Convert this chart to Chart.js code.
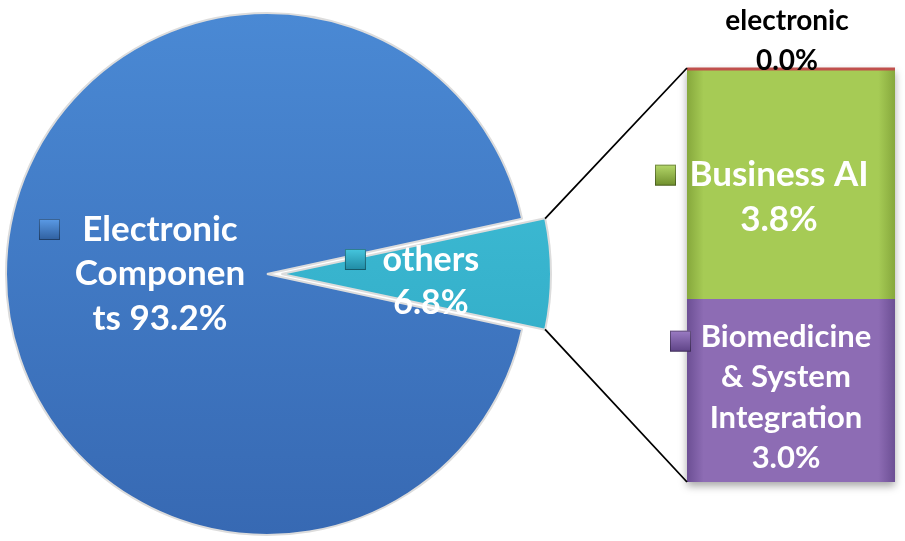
<!DOCTYPE html>
<html>
<head>
<meta charset="utf-8">
<script src="https://cdn.jsdelivr.net/npm/chart.js@4.4.1/dist/chart.umd.min.js"></script>
<style>
  html, body { margin: 0; padding: 0; background: #fff; overflow: hidden; }
  #wrap { position: relative; width: 905px; height: 541px; }
  #wrap canvas { position: absolute; left: 0; top: 0; }
</style>
</head>
<body>
<div id="wrap">
  <canvas id="pieChart" width="905" height="541"></canvas>
  <canvas id="barChart" width="905" height="541"></canvas>
</div>
<script>
// pie: "others" is split out into the bar on the right
const pieLabels = ['others', 'Electronic Components'];
const pieValues = [6.8, 93.2];
const pieLabelLines = [['others'], ['Electronic', 'Componen', 'ts']];

// bar (stack from bottom to top)
const barLabels = ['Biomedicine & System Integration', 'Business AI', 'electronic'];
const barValues = [3.0, 3.8, 0.0];
const barLabelLines = [['Biomedicine', '& System', 'Integration'], ['Business AI'], ['electronic']];

const pieColors = [['#45c4dc', '#2aa3bf'], ['#4a89d4', '#3769b3']];
const barColors = [['#8d6cb4', '#6c4f94'], ['#a6cb55', '#86a83c'], ['#c0504d', '#c0504d']];

const pct = v => v.toFixed(1) + '%';
const FONT = 'Lato, "Open Sans", sans-serif';

function drawKey(ctx, x, y, size, c1, c2) {
    const g = ctx.createLinearGradient(x, y, x, y + size);
    g.addColorStop(0, c1);
    g.addColorStop(1, c2);
    ctx.fillStyle = g;
    ctx.fillRect(x, y, size, size);
    ctx.strokeStyle = 'rgba(0,0,0,0.35)';
    ctx.lineWidth = 1;
    ctx.strokeRect(x + 0.5, y + 0.5, size - 1, size - 1);
}

function drawLines(ctx, lines, cx, cy, lh, font, color) {
    ctx.save();
    ctx.font = font;
    ctx.fillStyle = color;
    ctx.textAlign = 'center';
    ctx.textBaseline = 'middle';
    const top = cy - (lines.length - 1) * lh / 2;
    lines.forEach((t, i) => ctx.fillText(t, cx, top + i * lh));
    ctx.restore();
}

function vertGradient(ctx, area, c) {
    const g = ctx.createLinearGradient(0, area.top, 0, area.bottom);
    g.addColorStop(0, c[0]);
    g.addColorStop(1, c[1]);
    return g;
}

const total = pieValues.reduce((a, b) => a + b, 0);
const othersIdx = 0;
const othersAngle = pieValues[othersIdx] / total * 360;

// Chart.js moves an arc by offset/4 * (2 - sin(circumference)); pick the option
// so the exploded slice moves the wanted number of pixels
const explodePx = 23;
const othersCirc = othersAngle * Math.PI / 180;
const explodeFactor = (2 - Math.sin(Math.min(Math.PI, othersCirc))) / 4;
const explodeOpt = explodePx / explodeFactor;

const pieLabelPlugin = {
    id: 'pieLabels',
    afterDatasetsDraw(chart) {
        const ctx = chart.ctx;
        const arcs = chart.getDatasetMeta(0).data;
        arcs.forEach((arc, i) => {
            const mid = (arc.startAngle + arc.endAngle) / 2;
            const off = i === othersIdx ? explodePx : 0;
            const cx = arc.x + Math.cos(mid) * off;
            const cy = arc.y + Math.sin(mid) * off;
            const r = arc.outerRadius;
            const lines = pieLabelLines[i].slice();
            if (i === othersIdx) {
                lines.push(pct(pieValues[i]));
                const lx = cx + Math.cos(mid) * r * 0.54;
                const ly = cy + Math.sin(mid) * r * 0.54 + 8;
                drawLines(ctx, lines, lx, ly, 43, 'bold 34px ' + FONT, '#fff');
                drawKey(ctx, lx - 86, ly - 33, 21, '#46c6de', '#1f8aa3');
            } else {
                lines[lines.length - 1] += ' ' + pct(pieValues[i]);
                const lx = cx + Math.cos(mid) * r * 0.41;
                const ly = cy + Math.sin(mid) * r * 0.41;
                drawLines(ctx, lines, lx, ly, 44.5, 'bold 35px ' + FONT, '#fff');
                drawKey(ctx, lx - 121, ly - 55, 21, '#5b9be6', '#2f5f9f');
            }
        });
    }
};

const pieChart = new Chart(document.getElementById('pieChart'), {
    type: 'pie',
    data: {
        labels: pieLabels,
        datasets: [{
            data: pieValues,
            backgroundColor: c => vertGradient(c.chart.ctx, { top: 13, bottom: 535 }, pieColors[c.dataIndex]),
            borderColor: '#dcdcdc',
            borderWidth: 2,
            offset: pieValues.map((v, i) => i === othersIdx ? explodeOpt : 0)
        }]
    },
    options: {
        responsive: false,
        animation: false,
        rotation: 90 - othersAngle / 2,
        radius: 261,
        layout: { padding: { left: 0, right: 371, top: 7, bottom: 0 } },
        plugins: { legend: { display: false }, tooltip: { enabled: false } }
    },
    plugins: [pieLabelPlugin]
});

const barExtras = {
    id: 'barExtras',
    beforeDatasetsDraw(chart) {
        // soft drop shadow behind the stacked bar
        const ctx = chart.ctx;
        const first = chart.getDatasetMeta(0).data[0];
        const last = chart.getDatasetMeta(barValues.length - 1).data[0];
        ctx.save();
        ctx.shadowColor = 'rgba(0,0,0,0.35)';
        ctx.shadowBlur = 8;
        ctx.shadowOffsetY = 4;
        ctx.fillStyle = '#777';
        ctx.fillRect(first.x - first.width / 2, last.y, first.width, first.base - last.y);
        ctx.restore();
    },
    afterDatasetsDraw(chart) {
        const ctx = chart.ctx;
        const metas = barValues.map((v, i) => chart.getDatasetMeta(i).data[0]);
        const left = metas[0].x - metas[0].width / 2;
        const right = metas[0].x + metas[0].width / 2;
        const top = metas[metas.length - 1].y;
        const bottom = metas[0].base;

        // zero-height "electronic" segment shows as a thin red line
        ctx.save();
        ctx.strokeStyle = barColors[2][0];
        ctx.lineWidth = 3;
        ctx.beginPath();
        ctx.moveTo(left, top + 1);
        ctx.lineTo(right, top + 1);
        ctx.stroke();
        ctx.restore();

        // connector lines from the exploded slice to the bar
        const arc = pieChart.getDatasetMeta(0).data[othersIdx];
        const mid = (arc.startAngle + arc.endAngle) / 2;
        const ox = arc.x + Math.cos(mid) * explodePx;
        const oy = arc.y + Math.sin(mid) * explodePx;
        const r = arc.outerRadius;
        ctx.save();
        ctx.strokeStyle = '#000';
        ctx.lineWidth = 1.8;
        ctx.beginPath();
        ctx.moveTo(ox + Math.cos(arc.startAngle) * r, oy + Math.sin(arc.startAngle) * r);
        ctx.lineTo(left, top);
        ctx.moveTo(ox + Math.cos(arc.endAngle) * r, oy + Math.sin(arc.endAngle) * r);
        ctx.lineTo(left, bottom);
        ctx.stroke();
        ctx.restore();

        // segment labels
        const cx = metas[0].x;
        const bio = metas[0], biz = metas[1], ele = metas[2];
        const bioLines = barLabelLines[0].concat([pct(barValues[0])]);
        const bioCy = (bio.y + bio.base) / 2 + 7;
        drawLines(ctx, bioLines, cx - 5, bioCy, 40.5, 'bold 31px ' + FONT, '#fff');
        drawKey(ctx, left - 17, bioCy - 67, 21, '#9b7cc4', '#5e4386');

        const bizLines = barLabelLines[1].concat([pct(barValues[1])]);
        const bizCy = (biz.y + biz.base) / 2 + 14;
        drawLines(ctx, bizLines, cx - 12, bizCy, 45, 'bold 35px ' + FONT, '#fff');
        drawKey(ctx, left - 32, bizCy - 33, 21, '#b5d86a', '#6f8e2c');

        const eleLines = barLabelLines[2].concat([pct(barValues[2])]);
        drawLines(ctx, eleLines, cx - 4, ele.y - 27, 40, 'bold 28px ' + FONT, '#000');
    }
};

const barChart = new Chart(document.getElementById('barChart'), {
    type: 'bar',
    data: {
        labels: ['others'],
        datasets: barValues.map((v, i) => ({
            label: barLabels[i],
            data: [v],
            backgroundColor: c => {
                const a = c.chart.chartArea;
                if (!a) return barColors[i][0];
                const g = c.chart.ctx.createLinearGradient(a.left, 0, a.right, 0);
                g.addColorStop(0, barColors[i][1]);
                g.addColorStop(0.08, barColors[i][0]);
                g.addColorStop(0.92, barColors[i][0]);
                g.addColorStop(1, barColors[i][1]);
                return g;
            },
            borderWidth: 0,
            barPercentage: 1,
            categoryPercentage: 1
        }))
    },
    options: {
        responsive: false,
        animation: false,
        layout: { padding: { left: 687, right: 10, top: 68, bottom: 59 } },
        scales: {
            x: { stacked: true, display: false },
            y: { stacked: true, display: false, min: 0, max: barValues.reduce((a, b) => a + b, 0) }
        },
        plugins: { legend: { display: false }, tooltip: { enabled: false } }
    },
    plugins: [barExtras]
});
</script>
</body>
</html>
